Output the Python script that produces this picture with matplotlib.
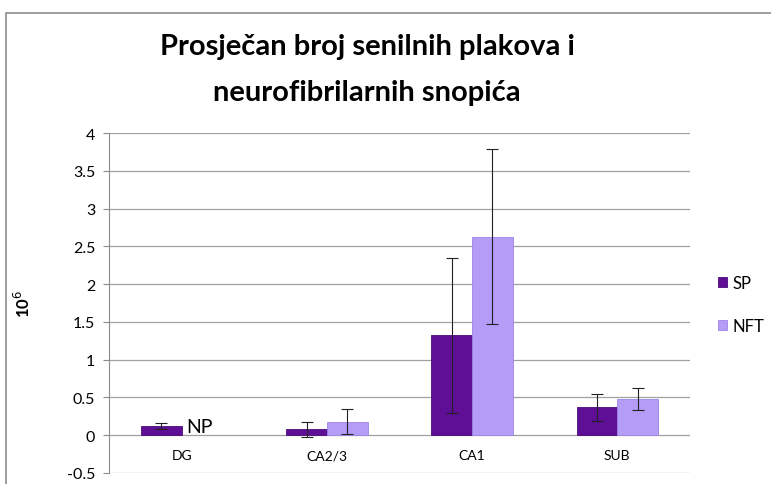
import matplotlib
matplotlib.use('Agg')
import matplotlib.pyplot as plt
import numpy as np
from matplotlib.patches import Rectangle

# data
categories = ["DG", "CA2/3", "CA1", "SUB"]
sp_values = [0.12, 0.08, 1.32, 0.37]
sp_errors = [0.04, 0.10, 1.03, 0.18]
nft_values = [np.nan, 0.18, 2.63, 0.48]
nft_errors = [np.nan, 0.17, 1.16, 0.15]
y_ticks = [-0.5, 0, 0.5, 1, 1.5, 2, 2.5, 3, 3.5, 4]

sp_color = '#5f0e96'
nft_color = '#b49cf7'

plt.rcParams['font.family'] = ['Lato', 'DejaVu Sans']

fig = plt.figure(figsize=(7.71, 4.85), dpi=100)
ax = fig.add_axes([0.1414, 0.0227, 0.7535, 0.701])

x = np.arange(len(categories))
w = 0.28
ax.bar(x - w / 2, sp_values, w, color=sp_color, edgecolor='#4a0a78', linewidth=0.6,
       yerr=sp_errors, error_kw=dict(ecolor='#222222', elinewidth=0.8, capsize=4, capthick=0.8),
       label='SP', zorder=3)
ax.bar(x + w / 2, nft_values, w, color=nft_color, edgecolor='#9c84e6', linewidth=0.6,
       yerr=nft_errors, error_kw=dict(ecolor='#222222', elinewidth=0.8, capsize=4, capthick=0.8),
       label='NFT', zorder=3)

# NP marker for missing NFT in DG
ax.text(x[0] + w / 2 - 0.11, sp_values[0] - 0.01, 'NP', fontsize=14, va='center', ha='left')

ax.set_xlim(-0.5, len(categories) - 0.5)
ax.set_ylim(-0.5, 4)
ax.set_yticks(y_ticks)
ax.set_yticklabels([f"{t:g}" for t in y_ticks], fontsize=11.5)
ax.yaxis.grid(True, color='#a0a0a0', linewidth=0.9, zorder=0)
ax.set_axisbelow(True)

ax.set_xticks(x)
ax.set_xticklabels(categories, fontsize=11.5)
ax.spines['bottom'].set_position(('data', 0))
ax.spines['bottom'].set_visible(False)
ax.spines['top'].set_visible(False)
ax.spines['right'].set_visible(False)
ax.spines['left'].set_color('#8c8c8c')
ax.tick_params(axis='x', length=0, pad=10)
ax.tick_params(axis='y', length=4, color='#8c8c8c', pad=6)

ax.set_ylabel('10$^6$', fontsize=12, fontweight='bold', labelpad=24)

fig.text(0.476, 0.855, 'Prosječan broj senilnih plakova i\nneurofibrilarnih snopića',
         fontsize=21, fontweight='bold', ha='center', va='center', linespacing=1.95)

leg = fig.legend(loc='center left', bbox_to_anchor=(0.912, 0.37), frameon=False,
                 fontsize=12, handlelength=0.55, handleheight=0.55, handletextpad=0.3,
                 labelspacing=1.6)

# outer chart border
fig.patches.append(Rectangle((0.008, -0.01), 1.1, 0.982, transform=fig.transFigure,
                             fill=False, edgecolor='#8c8c8c', linewidth=1.2))

fig.savefig('out.png', dpi=100)
